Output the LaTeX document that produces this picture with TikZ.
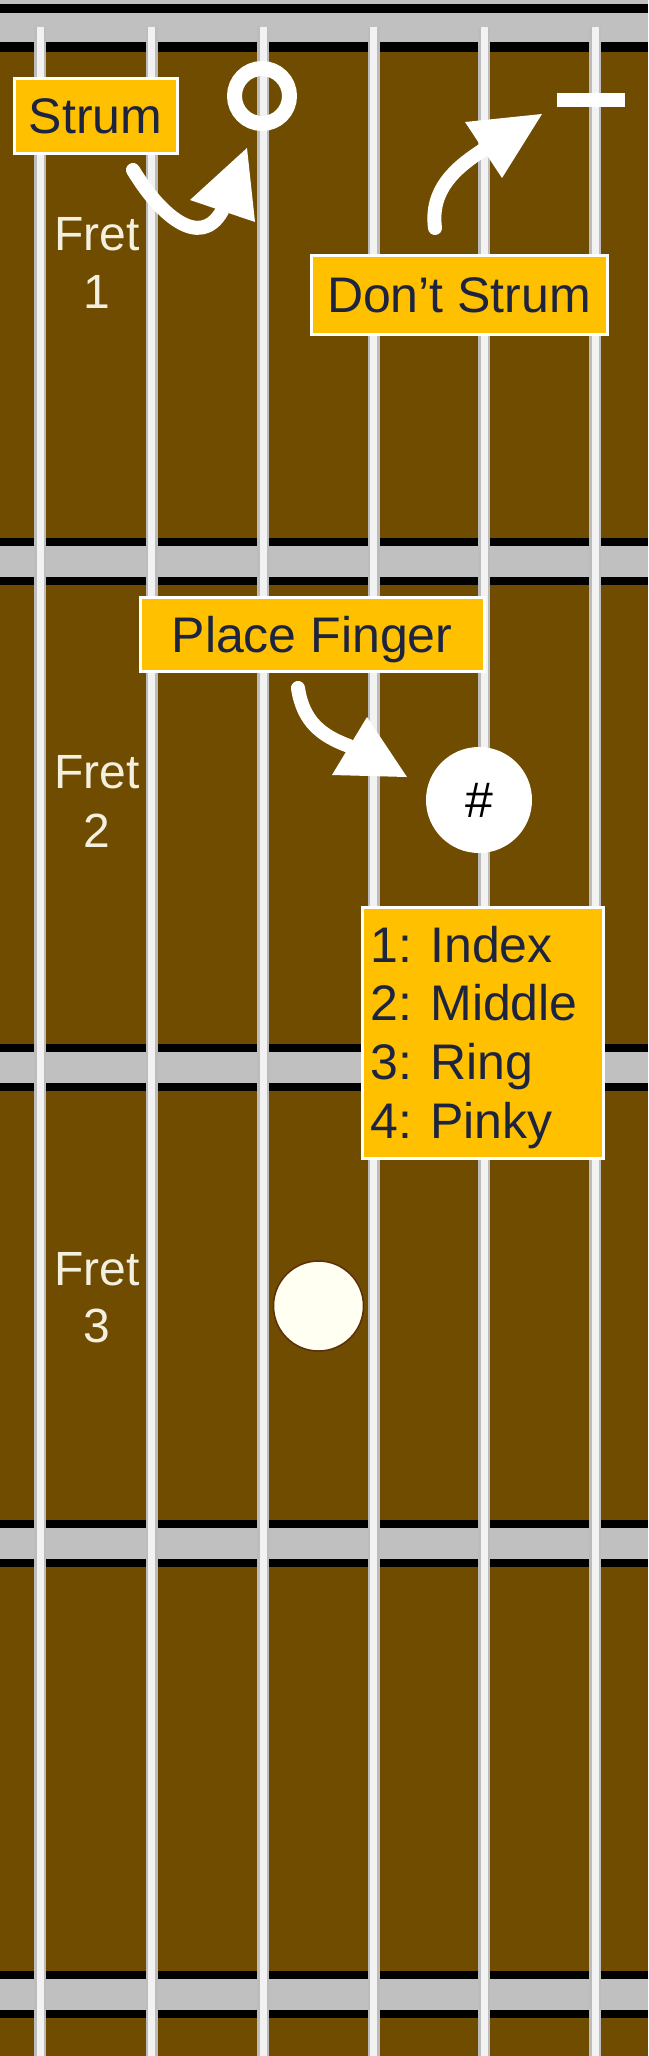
\documentclass[tikz,border=0pt]{standalone}
\usepackage{fontspec}
\setmainfont{Liberation Sans}
\definecolor{board}{RGB}{112,76,0}
\definecolor{fretgray}{RGB}{192,192,192}
\definecolor{labelyellow}{RGB}{255,192,0}
\definecolor{navy}{RGB}{28,36,64}
\definecolor{cream}{RGB}{244,240,224}
\definecolor{stringgray}{RGB}{188,188,188}
\definecolor{stringwhite}{RGB}{242,242,242}
\definecolor{ivory}{RGB}{255,255,242}
\definecolor{dotborder}{RGB}{92,46,10}
\begin{document}
\begin{tikzpicture}[x=1pt,y=-1pt,
  lbl/.style={draw=white, line width=3pt, fill=labelyellow, text=navy,
    font=\fontsize{50}{60}\selectfont, inner sep=0pt, text height=36pt, text depth=0pt},
  fretlbl/.style={text=cream, font=\fontsize{48}{58}\selectfont, inner sep=0pt, anchor=base},
  arrowshaft/.style={draw=white, line width=14pt, line cap=round},
  arrowhead/.style={fill=white}]
\useasboundingbox (0,0) rectangle (648,2056);
\fill[board] (0,0) rectangle (648,2056);
% nut
\fill[fretgray] (0,0) rectangle (648,4);
\fill[black] (0,4) rectangle (648,52);
\fill[fretgray] (0,13) rectangle (648,42);
% frets
\foreach \c in {561.5,1067,1543.5,1994}{
  \fill[black] (0,\c-23.5) rectangle (648,\c+23.5);
  \fill[fretgray] (0,\c-15.5) rectangle (648,\c+15.5);
}
% strings
\foreach \x in {40,151.5,263,373.5,484,595}{
  \draw[stringgray, line width=12pt] (\x,27) -- (\x,2056);
  \draw[stringwhite, line width=7pt] (\x,27) -- (\x,2056);
}
% fret labels
\node[fretlbl] (f1a) at (97,250) {Fret};
\node[fretlbl] (f1b) at (97,308) {1};
\node[fretlbl] (f2a) at (97,788) {Fret};
\node[fretlbl] (f2b) at (97,847) {2};
\node[fretlbl] (f3a) at (97,1285) {Fret};
\node[fretlbl] (f3b) at (97,1342) {3};
% open / mute marks
\node[circle, draw=white, line width=15pt, minimum size=55pt, inner sep=0pt] (open) at (262,96) {};
\node[fill=white, minimum width=68pt, minimum height=14pt, inner sep=0pt] (mute) at (591,100) {};
% label boxes
\node[lbl, minimum width=163pt, minimum height=75pt] (strum) at (95.5,115.5) {Strum};
\node[lbl, minimum width=296pt, minimum height=79pt] (dontstrum) at (459,294.5) {Don’t Strum};
\node[lbl, minimum width=344pt, minimum height=74pt] (place) at (312,634) {Place Finger};
% strum arrow
\coordinate (sa0) at (133,170);
\coordinate (sa1) at (222,211);
\draw[arrowshaft] (sa0) .. controls (160,215) and (200,250) .. (sa1);
\fill[arrowhead] (247,148) -- (190,200) -- (255,222) -- cycle;
% don't strum arrow
\coordinate (da0) at (435,228);
\coordinate (da1) at (483,150);
\draw[arrowshaft] (da0) .. controls (430,190) and (455,168) .. (da1);
\fill[arrowhead] (542,114) -- (465,122) -- (502,178) -- cycle;
% place finger arrow
\coordinate (pa0) at (298,688);
\coordinate (pa1) at (349,746);
\draw[arrowshaft] (pa0) .. controls (303,722) and (322,736) .. (pa1);
\fill[arrowhead] (407,777) -- (367,717) -- (332,775) -- cycle;
% finger circle
\node[circle, fill=white, minimum size=106pt, inner sep=0pt, text=black,
  font=\fontsize{50}{60}\selectfont] (finger) at (479,800) {\#};
% legend
\node[draw=white, line width=3pt, fill=labelyellow, minimum width=241pt,
  minimum height=251pt, inner sep=0pt] (legend) at (482.5,1032.5) {};
\node[anchor=base west, inner sep=0pt, text=navy, font=\fontsize{50}{58.67}\selectfont]
  (legendtext) at (370,962) {\begin{tabular}[t]{@{}l@{}}1: Index\\2: Middle\\3: Ring\\4: Pinky\end{tabular}};
% fret 3 dot
\node[circle, fill=ivory, draw=dotborder, line width=1.5pt, minimum size=90pt, inner sep=0pt] (dot3) at (318.5,1306) {};
\end{tikzpicture}
\end{document}
